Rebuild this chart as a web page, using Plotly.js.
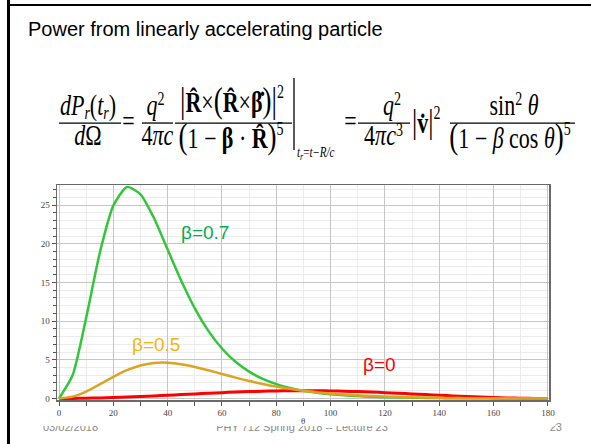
<!DOCTYPE html>
<html><head><meta charset="utf-8">
<script src="https://cdn.plot.ly/plotly-3.0.1.min.js"></script>
<style>
html,body{margin:0;padding:0;background:#fff;width:591px;height:444px;overflow:hidden;}
#slide{position:absolute;left:0;top:0;width:591px;height:444px;z-index:0;}
#chart{position:absolute;left:28px;top:175px;width:527px;height:251px;z-index:1;}
</style></head><body>
<svg id="slide" width="591" height="444" xmlns="http://www.w3.org/2000/svg">
  <rect x="7" y="0" width="3" height="444" fill="#000"/>
  <rect x="7" y="4" width="584" height="2" fill="#000"/>
  <text x="28" y="36" font-family="Liberation Sans, Arial, sans-serif" font-size="20" fill="#000">Power from linearly accelerating particle</text>
  <g transform="translate(0,70) scale(1,1.3)" font-family="Liberation Serif, Times New Roman, serif" font-size="22" fill="#000">
    <text x="60" y="34.6"><tspan font-style="italic">dP</tspan><tspan font-style="italic" font-size="14" dy="3">r</tspan><tspan dy="-3">(</tspan><tspan font-style="italic">t</tspan><tspan font-style="italic" font-size="14" dy="3">r</tspan><tspan dy="-3">)</tspan></text>
    <text x="88" y="57.5" text-anchor="middle"><tspan font-style="italic">d</tspan>Ω</text>
    <line x1="59" x2="121" y1="40.8" y2="40.8" stroke="#000" stroke-width="1"/>
    <text x="128.5" y="46.6" text-anchor="middle">=</text>
    <text x="155.5" y="34.6" text-anchor="middle"><tspan font-style="italic">q</tspan><tspan font-size="14" dy="-8">2</tspan></text>
    <text x="157.5" y="57.5" text-anchor="middle">4<tspan font-style="italic">πc</tspan></text>
    <line x1="142" x2="173" y1="40.8" y2="40.8" stroke="#000" stroke-width="1"/>
    <text x="232" y="32.3" text-anchor="middle"><tspan font-size="27">|</tspan><tspan font-weight="bold">R̂</tspan>×<tspan font-size="27">(</tspan><tspan font-weight="bold">R̂</tspan>×<tspan font-weight="bold">β̇</tspan><tspan font-size="27">)|</tspan><tspan font-size="14" dy="-11">2</tspan></text>
    <text x="231" y="60" text-anchor="middle"><tspan font-size="27">(</tspan>1 − <tspan font-weight="bold">β</tspan> · <tspan font-weight="bold">R̂</tspan><tspan font-size="27">)</tspan><tspan font-size="14" dy="-10">5</tspan></text>
    <line x1="175" x2="292" y1="40.8" y2="40.8" stroke="#000" stroke-width="1"/>
    <line x1="294" x2="294" y1="6.2" y2="61.5" stroke="#000" stroke-width="1.3"/>
    <text x="297" y="66.9" font-size="11" font-style="italic">t<tspan font-size="8" dy="2">r</tspan><tspan dy="-2" font-style="normal">=</tspan>t−R/c</text>
    <text x="350.5" y="46.6" text-anchor="middle">=</text>
    <text x="392" y="34.6" text-anchor="middle"><tspan font-style="italic">q</tspan><tspan font-size="14" dy="-8">2</tspan></text>
    <text x="383.5" y="57.5" text-anchor="middle">4<tspan font-style="italic">πc</tspan><tspan font-size="14" dy="-7">3</tspan></text>
    <line x1="358" x2="410" y1="40.8" y2="40.8" stroke="#000" stroke-width="1"/>
    <text x="412" y="48.5"><tspan font-size="26">|</tspan><tspan font-weight="bold">v̇</tspan><tspan font-size="26">|</tspan><tspan font-size="14" dy="-11">2</tspan></text>
    <text x="514" y="34.6" text-anchor="middle">sin<tspan font-size="14" dy="-8">2</tspan><tspan dy="8"> </tspan><tspan font-style="italic">θ</tspan></text>
    <text x="510" y="60" text-anchor="middle"><tspan font-size="27">(</tspan>1 − <tspan font-style="italic">β</tspan> cos <tspan font-style="italic">θ</tspan><tspan font-size="27">)</tspan><tspan font-size="14" dy="-10">5</tspan></text>
    <line x1="450" x2="575" y1="40.8" y2="40.8" stroke="#000" stroke-width="1"/>
  </g>
  <g font-family="Liberation Sans, Arial, sans-serif" font-size="11" fill="#8a8a8a">
    <text x="43" y="431">03/02/2018</text>
    <text x="302" y="431" text-anchor="middle">PHY 712  Spring 2018 -- Lecture 23</text>
    <text x="562" y="431" text-anchor="end">23</text>
  </g>
</svg>
<div id="chart"></div>
<script>
// angle theta in degrees
const theta = [0,5,10,15,20,25,30,35,40,45,50,55,60,65,70,75,80,85,90,95,100,105,110,115,120,125,130,135,140,145,150,155,160,165,170,175,180];
// beta = 0
const power0 = [0,0.0076,0.0302,0.067,0.117,0.1786,0.25,0.329,0.4132,0.5,0.5868,0.671,0.75,0.8214,0.883,0.933,0.9698,0.9924,1,0.9924,0.9698,0.933,0.883,0.8214,0.75,0.671,0.5868,0.5,0.4132,0.329,0.25,0.1786,0.117,0.067,0.0302,0.0076,0];
// beta = 0.5
const power05 = [0,0.239,0.895,1.813,2.793,3.652,4.266,4.586,4.621,4.429,4.078,3.637,3.16,2.692,2.255,1.866,1.527,1.24,1.0,0.802,0.64,0.508,0.401,0.315,0.246,0.19,0.146,0.11,0.082,0.059,0.041,0.028,0.017,0.009,0.004,0.001,0];
// beta = 0.7
const power07 = [0,2.99,10.42,18.8,24.93,27.35,26.4,23.3,19.25,15.22,11.66,8.74,6.46,4.74,3.47,2.53,1.854,1.36,1.0,0.738,0.547,0.406,0.302,0.225,0.167,0.124,0.092,0.067,0.048,0.034,0.023,0.015,0.009,0.005,0.002,0.001,0];
const xTicks = [0,20,40,60,80,100,120,140,160,180];
const yTicks = [0,5,10,15,20,25];
const labels = ['β=0.7','β=0.5','β=0'];
const xTitle = 'θ';

const traces = [
  {x: theta, y: power0, mode:'lines', line:{color:'#ff0000', width:3, shape:'spline', smoothing:0.6}},
  {x: theta, y: power07, mode:'lines', line:{color:'#33c63a', width:2.5, shape:'spline', smoothing:0.6}},
  {x: theta, y: power05, mode:'lines', line:{color:'#dca421', width:2.5, shape:'spline', smoothing:0.6}}
];
const tickFont = {family:'Liberation Serif, Times New Roman, serif', size:9, color:'#444'};
const layout = {
  width:527, height:251,
  margin:{l:29, r:6, t:10, b:26},
  paper_bgcolor:'#fff', plot_bgcolor:'#fff',
  showlegend:false,
  xaxis:{range:[-0.74,180.4], tickvals:xTicks, ticktext:xTicks.map(String), ticks:'outside', ticklen:4, tickcolor:'#555',
    showline:true, linecolor:'#6a6a6a', linewidth:1.5, mirror:true, showgrid:true, gridcolor:'#c6c6c6', gridwidth:1, zeroline:false,
    tickfont:tickFont, automargin:false, ticklabeloverflow:'allow',
    minor:{dtick:10, ticks:'outside', ticklen:4, tickcolor:'#555', showgrid:true, gridcolor:'#ebebeb'}},
  yaxis:{range:[-0.2,27.6], tickvals:yTicks, ticktext:yTicks.map(String), ticks:'outside', ticklen:4, tickcolor:'#555',
    showline:true, linecolor:'#6a6a6a', linewidth:1.5, mirror:true, showgrid:true, gridcolor:'#c6c6c6', gridwidth:1, zeroline:false,
    tickfont:tickFont, automargin:false,
    minor:{dtick:1, ticks:'outside', ticklen:3, tickcolor:'#555', showgrid:true, gridcolor:'#ebebeb'}},
  annotations:[
    {x:53.6, y:21.5, text:labels[0], showarrow:false, font:{family:'Liberation Sans, Arial', size:19, color:'#00b050'}},
    {x:35.6, y:7.0, text:labels[1], showarrow:false, font:{family:'Liberation Sans, Arial', size:19, color:'#f5b50f'}},
    {x:118, y:4.4, text:labels[2], showarrow:false, font:{family:'Liberation Sans, Arial', size:19, color:'#ff0000'}},
    {x:90, xref:'x', y:0, yref:'paper', yanchor:'middle', yshift:-21, text:xTitle, showarrow:false, font:tickFont}
  ]
};
Plotly.newPlot('chart', traces, layout, {displayModeBar:false, staticPlot:true});
</script>
</body></html>
